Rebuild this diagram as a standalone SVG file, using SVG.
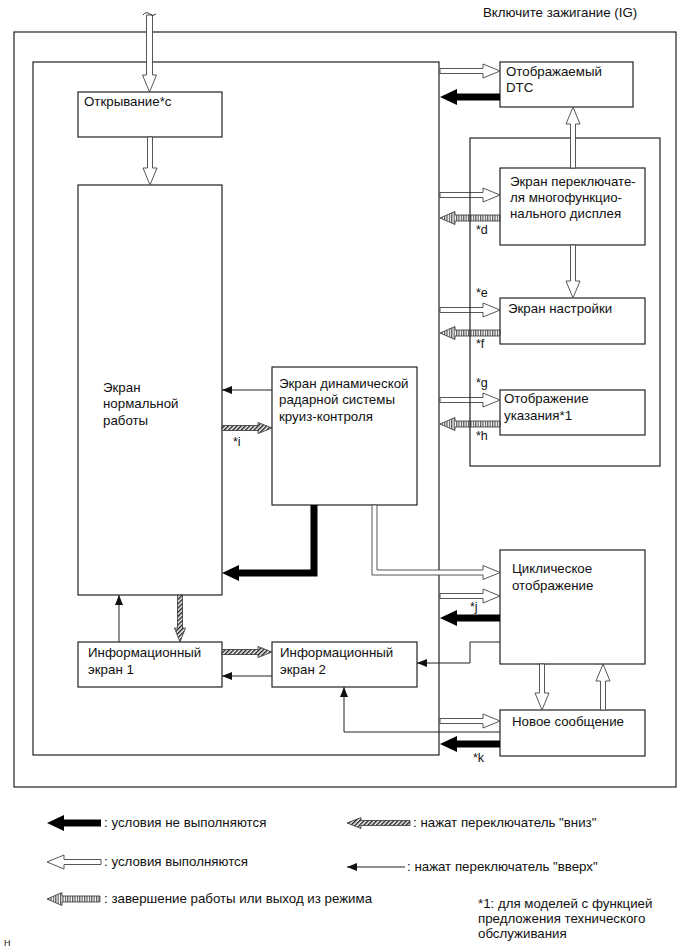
<svg xmlns="http://www.w3.org/2000/svg" width="691" height="952" viewBox="0 0 691 952">
<style>
text{font-family:"Liberation Sans",Arial,sans-serif;font-size:13.3px;fill:#111}
.box{fill:#fff;stroke:#222;stroke-width:1.2}
.frame{fill:none;stroke:#222;stroke-width:1.2}
.hol{fill:#fff;stroke:#444;stroke-width:0.9}
.blk{fill:#000;stroke:none}
.ext{fill:url(#vstripe);stroke:#333;stroke-width:0.8}
.dia{fill:url(#diag);stroke:#333;stroke-width:0.8}
.thin{fill:none;stroke:#222;stroke-width:1;marker-end:url(#tip)}
.lbl{font-size:12.5px}
</style>
<defs>
<pattern id="vstripe" width="2.4" height="4" patternUnits="userSpaceOnUse"><rect width="2.4" height="4" fill="#fff"/><rect width="1.2" height="4" fill="#555"/></pattern>
<pattern id="diag" width="3" height="3" patternUnits="userSpaceOnUse" patternTransform="rotate(45)"><rect width="3" height="3" fill="#fff"/><rect width="1.5" height="3" fill="#222"/></pattern>
<marker id="tip" viewBox="0 0 10 8" refX="10" refY="4" markerWidth="10" markerHeight="8" markerUnits="userSpaceOnUse" orient="auto"><path d="M0,0 L10,4 L0,8 z" fill="#111"/></marker>
</defs>
<rect width="691" height="952" fill="#fff"/>

<text x="483" y="17">Включите зажигание (IG)</text>

<g id="outer"><rect class="frame" x="14" y="32" width="662" height="755"/></g>
<g id="main"><rect class="frame" x="33" y="62" width="406" height="693"/></g>

<g id="opening"><rect class="box" x="78" y="92" width="144" height="45"/><text x="84" y="106">Открывание*c</text></g>
<g id="normal"><rect class="box" x="78" y="185" width="144" height="410"/><text x="103" y="392">Экран</text><text x="103" y="408">нормальной</text><text x="103" y="425">работы</text></g>
<g id="radar"><rect class="box" x="272" y="367" width="145" height="138"/><text x="279" y="388">Экран динамической</text><text x="279" y="404">радарной системы</text><text x="279" y="421">круиз-контроля</text></g>
<g id="info1"><rect class="box" x="78" y="642" width="144" height="45"/><text x="88" y="657">Информационный</text><text x="88" y="674">экран 1</text></g>
<g id="info2"><rect class="box" x="272" y="642" width="145" height="45"/><text x="280" y="657">Информационный</text><text x="280" y="674">экран 2</text></g>

<g id="dtc"><rect class="box" x="500" y="62" width="133" height="45"/><text x="506" y="76">Отображаемый</text><text x="506" y="92">DTC</text></g>
<g id="mfd"><rect class="box" x="500" y="168" width="145" height="77"/><text x="510" y="186">Экран переключате-</text><text x="510" y="202">ля многофункцио-</text><text x="510" y="218">нального дисплея</text></g>
<g id="setup"><rect class="box" x="500" y="298" width="145" height="46"/><text x="508" y="313">Экран настройки</text></g>
<g id="hint"><rect class="box" x="500" y="390" width="145" height="45"/><text x="504" y="403">Отображение</text><text x="504" y="420">указания*1</text></g>
<g id="cyclic"><rect class="box" x="500" y="550" width="145" height="114"/><text x="512" y="573">Циклическое</text><text x="512" y="590">отображение</text></g>
<g id="newmsg"><rect class="box" x="500" y="710" width="145" height="46"/><text x="512" y="726">Новое сообщение</text></g>

<g id="connectors">
<polygon class="hol" points="146.5,15 146.5,75 142.5,75 149.5,92 156.5,75 152.5,75 152.5,15"/>
<path d="M143,15 q3,-4 6.5,-1 t6.5,0" fill="none" stroke="#333" stroke-width="1"/>
<polygon class="hol" points="147.5,137 147.5,168 143,168 150,185 157,168 152.5,168 152.5,137"/>
<polygon class="hol" points="440,68.5 483,68.5 483,64 500,71 483,78 483,73.5 440,73.5"/>
<polygon class="blk" points="500,93.5 457,93.5 457,89 440,97 457,105 457,100.5 500,100.5"/>
<polygon class="hol" points="440,192.5 483,192.5 483,188 500,195 483,202 483,197.5 440,197.5"/>
<polygon class="ext" points="500,215 455,215 455,211.5 440,218 455,224.5 455,221 500,221"/>
<polygon class="hol" points="440,307.5 483,307.5 483,303 500,310 483,317 483,312.5 440,312.5"/>
<polygon class="ext" points="500,330 455,330 455,326.5 440,333 455,339.5 455,336 500,336"/>
<polygon class="hol" points="440,397.5 483,397.5 483,393 500,400 483,407 483,402.5 440,402.5"/>
<polygon class="ext" points="500,421 455,421 455,417.5 440,424 455,430.5 455,427 500,427"/>
<polygon class="hol" points="372,505 372,575 483,575 483,579.5 500,572.5 483,565.5 483,570 377,570 377,505"/>
<polygon class="hol" points="440,593.5 483,593.5 483,589 500,596 483,603 483,598.5 440,598.5"/>
<polygon class="blk" points="500,614.5 457,614.5 457,610 440,618 457,626 457,621.5 500,621.5"/>
<polygon class="hol" points="440,718.5 483,718.5 483,714 500,721 483,728 483,723.5 440,723.5"/>
<polygon class="blk" points="500,740.5 457,740.5 457,736 440,744 457,752 457,747.5 500,747.5"/>
<polygon class="hol" points="539.5,664 539.5,693 535,693 542,710 549,693 544.5,693 544.5,664"/>
<polygon class="hol" points="600.5,710 600.5,681 596,681 603,664 610,681 605.5,681 605.5,710"/>
<polygon class="blk" points="310.5,505 317.5,505 317.5,576.5 239,576.5 239,581 222,573 239,565 239,569.5 310.5,569.5"/>
<polygon class="dia" points="222,425.5 258,425.5 258,422.5 272,428 258,433.5 258,430.5 222,430.5"/>
<polygon class="dia" points="177.5,595 177.5,628 174.5,628 180,642 185.5,628 182.5,628 182.5,595"/>
<polygon class="dia" points="222,649.5 258,649.5 258,646.5 272,652 258,657.5 258,654.5 222,654.5"/>
<path class="thin" d="M272,390 H222"/>
<path class="thin" d="M119,642 V595"/>
<path class="thin" d="M272,676 H222"/>
<path class="thin" d="M500,642 H470 V663 H417"/>
<path class="thin" d="M500,732 H344 V687"/>
</g>

<g id="group"><rect class="frame" x="470" y="138" width="190" height="328"/>
<polygon class="hol" points="570.5,168 570.5,124 566,124 573,107 580,124 575.5,124 575.5,168"/>
<polygon class="hol" points="570.5,245 570.5,281 566,281 573,298 580,281 575.5,281 575.5,245"/>
</g>

<g id="labels">
<text class="lbl" x="476" y="234">*d</text>
<text class="lbl" x="476" y="297">*e</text>
<text class="lbl" x="476" y="348">*f</text>
<text class="lbl" x="476" y="387">*g</text>
<text class="lbl" x="476" y="440">*h</text>
<text class="lbl" x="233" y="446">*i</text>
<text class="lbl" x="470" y="611">*j</text>
<text class="lbl" x="473" y="762">*k</text>
</g>

<g id="legend">
<polygon class="blk" points="101,819.5 64,819.5 64,815 47,823 64,831 64,826.5 101,826.5"/>
<text x="104" y="827">: условия не выполняются</text>
<polygon class="hol" points="101,859.5 64,859.5 64,855 47,862 64,869 64,864.5 101,864.5"/>
<text x="104" y="866">: условия выполняются</text>
<polygon class="ext" points="100,896 62,896 62,892.5 47,899 62,905.5 62,902 100,902"/>
<text x="104" y="903">: завершение работы или выход из режима</text>
<polygon class="dia" points="410,820.5 361,820.5 361,817.5 347,823 361,828.5 361,825.5 410,825.5"/>
<text x="413" y="827">: нажат переключатель "вниз"</text>
<path class="thin" d="M405,867 H347"/>
<text x="407" y="871">: нажат переключатель "вверх"</text>
<text x="478" y="908">*1: для моделей с функцией</text>
<text x="478" y="923">предложения технического</text>
<text x="478" y="938">обслуживания</text>
</g>
<text x="4" y="946" style="font-size:9px">H</text>
</svg>
